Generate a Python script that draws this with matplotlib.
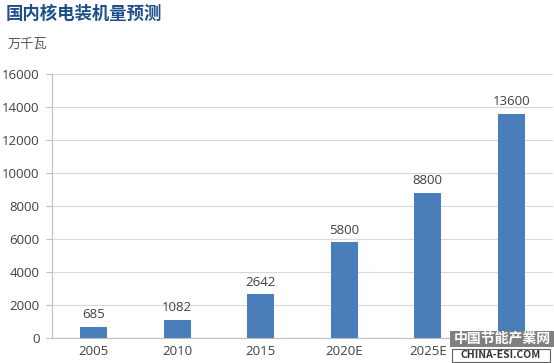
import matplotlib
matplotlib.use("Agg")
import matplotlib.pyplot as plt
from matplotlib.patches import Rectangle

plt.rcParams['font.family'] = ['Noto Sans CJK SC', 'DejaVu Sans']

categories = ["2005", "2010", "2015", "2020E", "2025E", "2030E"]
values = [685, 1082, 2642, 5800, 8800, 13600]
yticks = [0, 2000, 4000, 6000, 8000, 10000, 12000, 14000, 16000]

fig = plt.figure(figsize=(5.54, 3.63), dpi=100)
ax = fig.add_axes([0.094, 0.069, 0.904, 0.727])

x = list(range(len(categories)))
ax.bar(x, values, width=0.32, color="#4A7EBB", zorder=3)
for xi, v in zip(x, values):
    ax.text(xi, v + 350, str(v), ha="center", va="bottom", fontsize=9.5,
            family=["Open Sans", "DejaVu Sans"], color="#404040")

ax.set_xlim(-0.5, len(categories) - 0.5)
ax.set_ylim(0, 16000)
ax.set_yticks(yticks)
ax.set_xticks(x)
ax.set_xticklabels(categories)
for lab in ax.get_xticklabels() + ax.get_yticklabels():
    lab.set_family(["Open Sans", "DejaVu Sans"])
# the last category label is hidden under the site watermark in the source image
ax.get_xticklabels()[-1].set_visible(False)
ax.tick_params(axis="y", length=4, color="#BFBFBF", labelsize=9.5, labelcolor="#404040", pad=5)
ax.tick_params(axis="x", length=0, labelsize=9.5, labelcolor="#404040", pad=5)
ax.grid(axis="y", color="#D9D9D9", linewidth=0.8, zorder=0)
for s in ["top", "right"]:
    ax.spines[s].set_visible(False)
ax.spines["left"].set_color("#BFBFBF")
ax.spines["bottom"].set_color("#BFBFBF")

fig.text(0.011, 0.962, "国内核电装机量预测", fontsize=12.5, fontweight="bold", color="#1F4E8C", va="center")
fig.text(0.013, 0.878, "万千瓦", fontsize=9.5, color="#595959", va="center")

# watermark
fig.patches.append(Rectangle((450 / 554, 1 - 347 / 363), 104 / 554, 16 / 363,
                             transform=fig.transFigure, facecolor="#808080",
                             edgecolor="none", zorder=10))
fig.patches.append(Rectangle((452 / 554, 1 - 362 / 363), 98 / 554, 13 / 363,
                             transform=fig.transFigure, facecolor="white",
                             edgecolor="#606060", linewidth=0.8, zorder=10))
fig.text(502 / 554, 1 - 339 / 363, "中国节能产業网", fontsize=10, fontweight="bold",
         color="white", va="center", ha="center", zorder=11)
fig.text(501 / 554, 1 - 355.5 / 363, "CHINA-ESI.COM", fontsize=7.5, fontweight="bold",
         color="#333333", va="center", ha="center", zorder=11)

fig.savefig("out.png", dpi=100)
